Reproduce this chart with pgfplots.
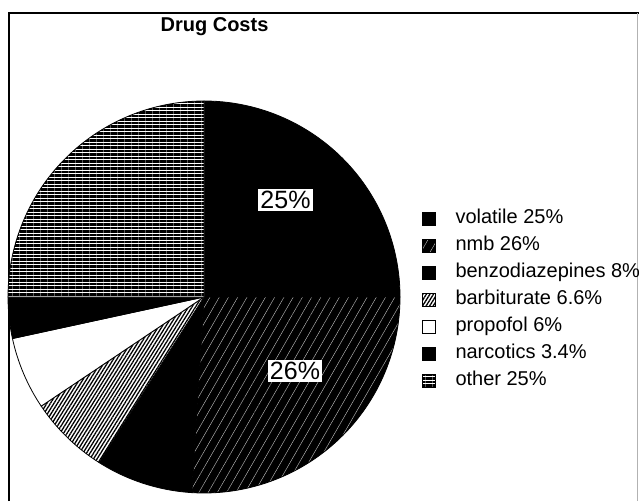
\documentclass[border=0pt]{standalone}
\usepackage{pgfplots}
\pgfplotsset{compat=1.18}
\usepackage{pgfplotstable}
\usetikzlibrary{patterns.meta}
\usepackage{fontspec}
\setmainfont{Liberation Sans}

% share of drug costs, in percent, clockwise from 12 o'clock
\pgfplotstableread{
name pct
volatile 25
nmb 26
benzodiazepines 8
barbiturate 6.6
propofol 6
narcotics 3.4
other 25
}\drugcosts

\tikzset{
  slice0/.style={fill=black},
  slice1/.style={preaction={fill=black}, pattern={Lines[angle=60,distance=8pt,line width=0.4pt]}, pattern color=gray!45},
  slice2/.style={fill=black},
  slice3/.style={preaction={fill=white}, pattern={Lines[angle=58,distance=3pt,line width=1.3pt]}, pattern color=black},
  slice4/.style={fill=white},
  slice5/.style={fill=black},
  slice6/.style={preaction={fill=white}, pattern={Lines[angle=0,distance=3.5pt,line width=2.7pt]}, pattern color=black},
}

\begin{document}
\begin{tikzpicture}
\begin{axis}[
    x=1pt, y=1pt,
    xmin=0, xmax=639, ymin=0, ymax=501,
    hide axis, clip=false,
    legend image code/.code={\path[draw=black,line width=0.8pt,#1] (0pt,-6.5pt) rectangle (13pt,6.5pt);},
    legend cell align=left,
    legend style={at={(axis cs:421.5,201)}, anchor=west, draw=none, fill=none,
      font=\fontsize{20}{24}\selectfont, inner sep=0pt, row sep=8pt, column sep=20pt,
      nodes={inner sep=0pt, text height=14pt, text depth=5pt}},
  ]
  % frame
  \draw[line width=2.5pt] (axis cs:9,0) -- (axis cs:9,488) -- (axis cs:639,488);
  \draw[line width=0.8pt, gray!60] (axis cs:637.5,488) -- (axis cs:637.5,0);

  % pie slices from the table
  \def\angstart{90}
  \pgfplotsforeachungrouped \i in {0,...,6}{
    \pgfplotstablegetelem{\i}{pct}\of\drugcosts
    \let\p\pgfplotsretval
    \pgfmathsetmacro\angend{\angstart-3.6*\p}
    \edef\tmp{\noexpand\path[draw=black, line width=0.8pt, slice\i] (axis cs:204,204) -- ++(\angstart:196pt)
      arc[start angle=\angstart, end angle=\angend, radius=196pt] -- cycle;}
    \tmp
    \let\angstart\angend
  }

  \node[fill=white, inner sep=2pt, font=\fontsize{25}{28}\selectfont] at (axis cs:285.5,301) {25\%};
  \node[fill=white, inner sep=2pt, font=\fontsize{25}{28}\selectfont] at (axis cs:295,130) {26\%};
  \node[anchor=base, font=\fontsize{20}{24}\selectfont\bfseries] at (axis cs:214.5,469) {Drug Costs};

  \addlegendimage{slice0}\addlegendentry{volatile 25\%}
  \addlegendimage{slice1}\addlegendentry{nmb 26\%}
  \addlegendimage{slice2}\addlegendentry{benzodiazepines 8\%}
  \addlegendimage{slice3}\addlegendentry{barbiturate 6.6\%}
  \addlegendimage{slice4}\addlegendentry{propofol 6\%}
  \addlegendimage{slice5}\addlegendentry{narcotics 3.4\%}
  \addlegendimage{slice6}\addlegendentry{other 25\%}
\end{axis}
\pgfresetboundingbox
\path[use as bounding box] (0,0) rectangle (639pt,501pt);
\end{tikzpicture}
\end{document}
